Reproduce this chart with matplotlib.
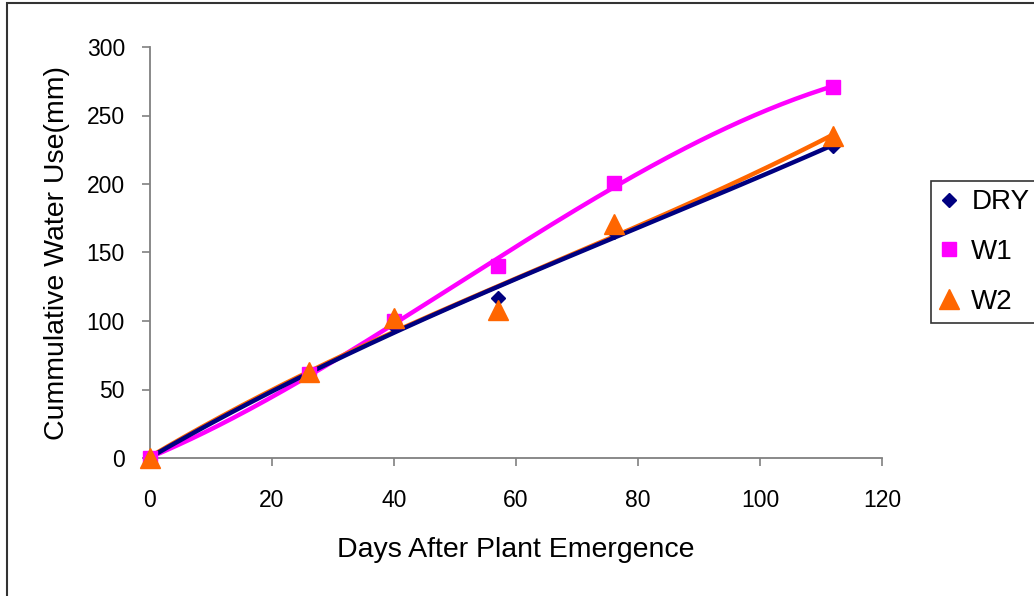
import numpy as np
import matplotlib
matplotlib.use("Agg")
import matplotlib.pyplot as plt
from matplotlib.patches import Rectangle

plt.rcParams['font.family'] = ['Liberation Sans', 'DejaVu Sans']

days = [0, 26, 40, 57, 76, 112]
dry = [0, 62, 96, 117, 165, 228]
w1 = [0, 61, 100, 140, 201, 271]
w2 = [0, 63, 102, 108, 171, 235]

series = [("DRY", dry, "#000080", "D", 7),
          ("W1", w1, "#FF00FF", "s", 10),
          ("W2", w2, "#FF6600", "^", 15)]

fig = plt.figure(figsize=(10.34, 5.96), dpi=100)
fig.patches.append(Rectangle((7/1034, -0.1), 1.2, 1 - 3/596 + 0.1,
                             transform=fig.transFigure, fill=False,
                             edgecolor="#333333", linewidth=1.5))
ax = fig.add_axes([150/1034, 1 - 458/596, (882-150)/1034, (458-47)/596])

xs = np.linspace(min(days), max(days), 200)
# trendlines (polynomial order 3), drawn W1, W2, then DRY on top
for name, vals, col, mk, ms in [series[1], series[2], series[0]]:
    coef = np.polyfit(days, vals, 3)
    ax.plot(xs, np.polyval(coef, xs), color=col, lw=3.2, zorder=2,
            solid_capstyle='round')

handles = []
for name, vals, col, mk, ms in series:
    h, = ax.plot(days, vals, linestyle='none', marker=mk, markersize=ms,
                 color=col, markeredgecolor=col, zorder=3, label=name,
                 clip_on=False)
    handles.append(h)

ax.set_xlim(0, 120)
ax.set_ylim(0, 300)
ax.set_xticks(range(0, 121, 20))
ax.set_yticks(range(0, 301, 50))
for s in ['top', 'right']:
    ax.spines[s].set_visible(False)
for s in ['left', 'bottom']:
    ax.spines[s].set_color('#808080')
    ax.spines[s].set_linewidth(1.3)
ax.tick_params(axis='both', direction='out', length=6, width=1.2,
               color='#808080', labelsize=16.5, labelcolor='black')
ax.tick_params(axis='x', pad=16)
ax.tick_params(axis='y', pad=12)
ax.set_xlabel("Days After Plant Emergence", fontsize=20.5, labelpad=18)
ax.set_ylabel("Cummulative Water Use(mm)", fontsize=20.5, labelpad=12)

leg = fig.legend(handles=handles, loc='upper left',
                 bbox_to_anchor=(931/1034, 1 - 181/596), borderaxespad=0,
                 fontsize=20, frameon=True, fancybox=False, edgecolor='black',
                 borderpad=0.3, labelspacing=0.85, handlelength=0.7,
                 handletextpad=0.45, markerscale=1.0)
leg.get_frame().set_linewidth(1.2)

fig.savefig("out.png", dpi=100)
